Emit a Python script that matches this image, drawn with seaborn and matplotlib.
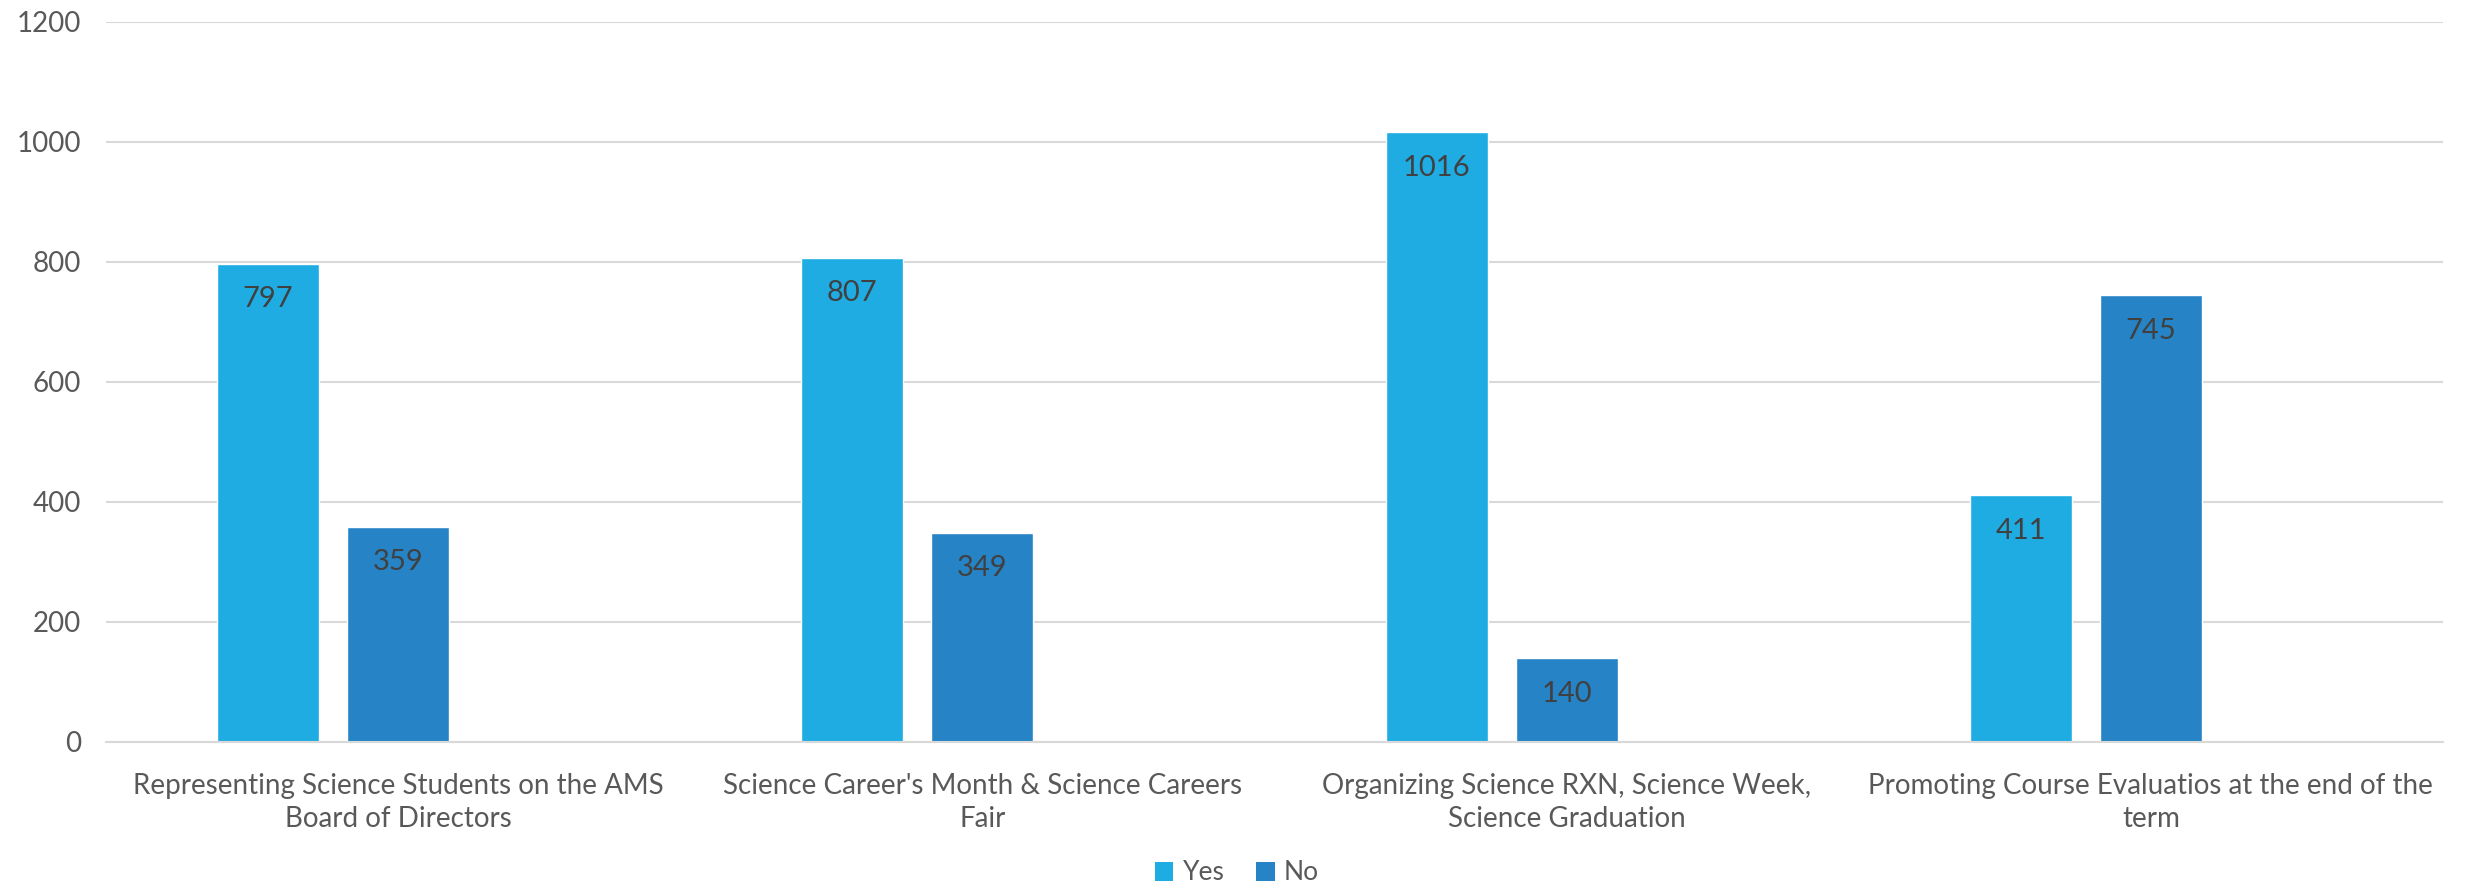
import matplotlib
matplotlib.use("Agg")
import matplotlib.pyplot as plt
import seaborn as sns
import pandas as pd
import numpy as np
from matplotlib.patches import Patch

categories = [
    "Representing Science Students on the AMS\nBoard of Directors",
    "Science Career's Month & Science Careers\nFair",
    "Organizing Science RXN, Science Week,\nScience Graduation",
    "Promoting Course Evaluatios at the end of the\nterm",
]
yes_values = [797, 807, 1016, 411]
no_values = [359, 349, 140, 745]
series = ["Yes", "No"]
y_ticks = [0, 200, 400, 600, 800, 1000, 1200]

colors = {"Yes": "#1FACE3", "No": "#2683C6", " ": "#FFFFFF"}

df = pd.DataFrame({
    "category": categories * 2,
    "series": ["Yes"] * 4 + ["No"] * 4,
    "value": yes_values + no_values,
})

sns.set_theme(style="white")
plt.rcParams['font.family'] = ['Lato', 'DejaVu Sans']

fig = plt.figure(figsize=(24.69, 8.86), dpi=100)
ax = fig.add_axes([106/2469, 1-742/886, (2443-106)/2469, (742-22)/886])

sns.barplot(data=df, x="category", y="value", hue="series",
            hue_order=["Yes", "No", " "], order=categories,
            palette=colors, width=0.6675, gap=0.215, ax=ax,
            legend=False, saturation=1, errorbar=None)

ax.set_ylim(0, 1200)
ax.set_xlim(-0.5, len(categories) - 0.5)
ax.set_yticks(y_ticks)
ax.set_yticklabels([str(t) for t in y_ticks], fontsize=20, color="#595959")
ax.tick_params(axis="y", length=0, pad=18)
ax.tick_params(axis="x", length=0, pad=22, labelsize=20, labelcolor="#595959")
ax.set_xlabel("")
ax.set_ylabel("")
ax.yaxis.grid(True, color="#D9D9D9", linewidth=1.5)
ax.set_axisbelow(True)
for s in ["top", "right", "left"]:
    ax.spines[s].set_visible(False)
ax.spines["bottom"].set_color("#D9D9D9")
ax.spines["bottom"].set_linewidth(1.5)

for lbl in ax.get_xticklabels():
    lbl.set_linespacing(1.35)

for container in ax.containers:
    ax.bar_label(container, fmt="%d", label_type="edge", padding=-35,
                 fontsize=21, color="#404040")

handles = [Patch(facecolor=colors[s], edgecolor="none") for s in series]
fig.legend(handles, series, loc="center", bbox_to_anchor=(1237/2469, 1-873/886),
           ncol=2, frameon=False, fontsize=19, labelcolor="#595959",
           handlelength=0.7, handleheight=0.7, handletextpad=0.35,
           columnspacing=1.2)

fig.savefig("out.png", dpi=100, facecolor="white")
